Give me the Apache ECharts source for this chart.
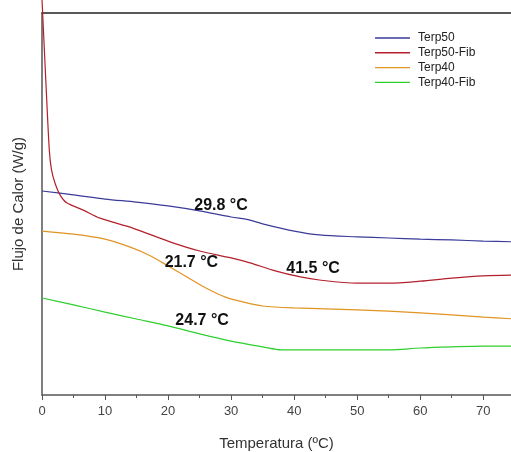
<!DOCTYPE html>
<html lang="es">
<head>
<meta charset="UTF-8">
<title>DSC</title>
<script src="https://cdn.jsdelivr.net/npm/echarts@6/dist/echarts.min.js"></script>
<style>html,body{margin:0;padding:0;background:#fff;}</style>
</head>
<body>
<div id="dv" style="width:511px;height:452px;"></div>
<script>
// temperatura (ºC) / flujo de calor (unidades arbitrarias)
var names = ['Terp50', 'Terp50-Fib', 'Terp40', 'Terp40-Fib'];
var colors = ['#3b3b9a', '#b3202c', '#e09422', '#2ecf2e'];

var terp50 = [[0,53.4],[5,52.4],[10,51.3],[15,50.5],[20,49.5],[25,48.2],[30,46.6],[33,45.8],[35,44.8],[40,42.9],[44,41.9],[50,41.4],[55,41.1],[60,40.8],[65,40.6],[70,40.3],[75,40.1]];
var terp50Fib = [[0,103.4],[0.1,100],[0.6,82.5],[1.16,64.1],[1.5,59],[2.06,55.5],[2.86,52.4],[3.92,50.3],[6.56,48.4],[9.2,46.3],[14.4,43.7],[20.3,40.1],[25,37.7],[30,35.9],[33,34.6],[37,32.5],[41,30.9],[44,30.1],[50,29.3],[55,29.3],[60,29.8],[65,30.6],[70,31.2],[75,31.4]];
var terp40 = [[0,42.9],[5,42.1],[10,40.8],[14,38.7],[17,36.6],[20,33.8],[23,30.9],[26,28.0],[29,25.7],[32,24.3],[35,23.3],[40,22.8],[50,22.3],[60,21.5],[70,20.4],[75,19.9]];
var terp40Fib = [[0,25.4],[5,23.6],[10,21.7],[15,19.9],[20,18.1],[25,16.0],[30,14.1],[35,12.6],[38,11.8],[45,11.8],[55,11.8],[60,12.3],[65,12.6],[70,12.8],[75,12.8]];

// temperaturas de transición anotadas
var notes = [
  {s: 0, text: '29.8 °C', at: [28.4, 49.5]},
  {s: 1, text: '41.5 °C', at: [43.0, 33.2]},
  {s: 2, text: '21.7 °C', at: [23.7, 34.6]},
  {s: 3, text: '24.7 °C', at: [25.4, 19.6]}
];

var xTicks = [0, 10, 20, 30, 40, 50, 60, 70];

var chart = echarts.init(document.getElementById('dv'));
var dataSets = [terp50, terp50Fib, terp40, terp40Fib];

var series = dataSets.map(function (d, i) {
  var marks = notes.filter(function (n) { return n.s === i; }).map(function (n) {
    return {
      coord: n.at,
      symbol: 'circle',
      symbolSize: 0,
      label: {
        show: true, position: 'inside', formatter: n.text,
        fontFamily: 'Liberation Sans', fontWeight: 'bold', fontSize: 16, color: '#111'
      }
    };
  });
  return {
    name: names[i],
    type: 'line',
    data: d,
    symbol: 'none',
    smooth: 0.3,
    clip: i !== 1,
    lineStyle: {width: 1.2, color: colors[i]},
    itemStyle: {color: colors[i]},
    markPoint: {silent: true, data: marks}
  };
});

var option = {
  backgroundColor: '#fff',
  animation: false,
  textStyle: {fontFamily: 'Liberation Sans'},
  grid: {left: 42, right: 0, top: 13, bottom: 57, containLabel: false, outerBoundsMode: 'none'},
  legend: {
    orient: 'vertical',
    left: 375, top: 32,
    padding: 0,
    icon: 'path://M0,0H35V1.4H0Z',
    itemWidth: 35, itemHeight: 10, itemGap: 2.8,
    data: names,
    textStyle: {fontSize: 12, color: '#222', padding: [0, 0, 0, 3]}
  },
  xAxis: [{
    type: 'value',
    min: 0, max: 74.4, interval: 10,
    name: 'Temperatura (ºC)',
    nameLocation: 'middle',
    nameGap: 41,
    nameTextStyle: {fontSize: 15, color: '#333'},
    axisLine: {lineStyle: {color: '#555', width: 1.5}},
    axisTick: {show: true, length: 5, lineStyle: {color: '#555'}},
    minorTick: {show: true, splitNumber: 2, length: 3, lineStyle: {color: '#555'}},
    axisLabel: {
      fontSize: 13, color: '#444', margin: 10,
      customValues: xTicks
    },
    splitLine: {show: false}
  }, {
    type: 'value',
    position: 'top',
    min: 0, max: 74.4,
    axisLine: {show: true, onZero: false, lineStyle: {color: '#222', width: 1.5}},
    axisTick: {show: false},
    axisLabel: {show: false},
    splitLine: {show: false}
  }],
  yAxis: {
    type: 'value',
    min: 0, max: 100,
    name: 'Flujo de Calor (W/g)',
    nameLocation: 'middle',
    nameGap: 16,
    nameTextStyle: {fontSize: 15, color: '#333'},
    axisLine: {show: true, lineStyle: {color: '#555', width: 1.5}},
    axisTick: {show: false},
    axisLabel: {show: false},
    splitLine: {show: false}
  },
  series: series
};
chart.setOption(option);
</script>
</body>
</html>
